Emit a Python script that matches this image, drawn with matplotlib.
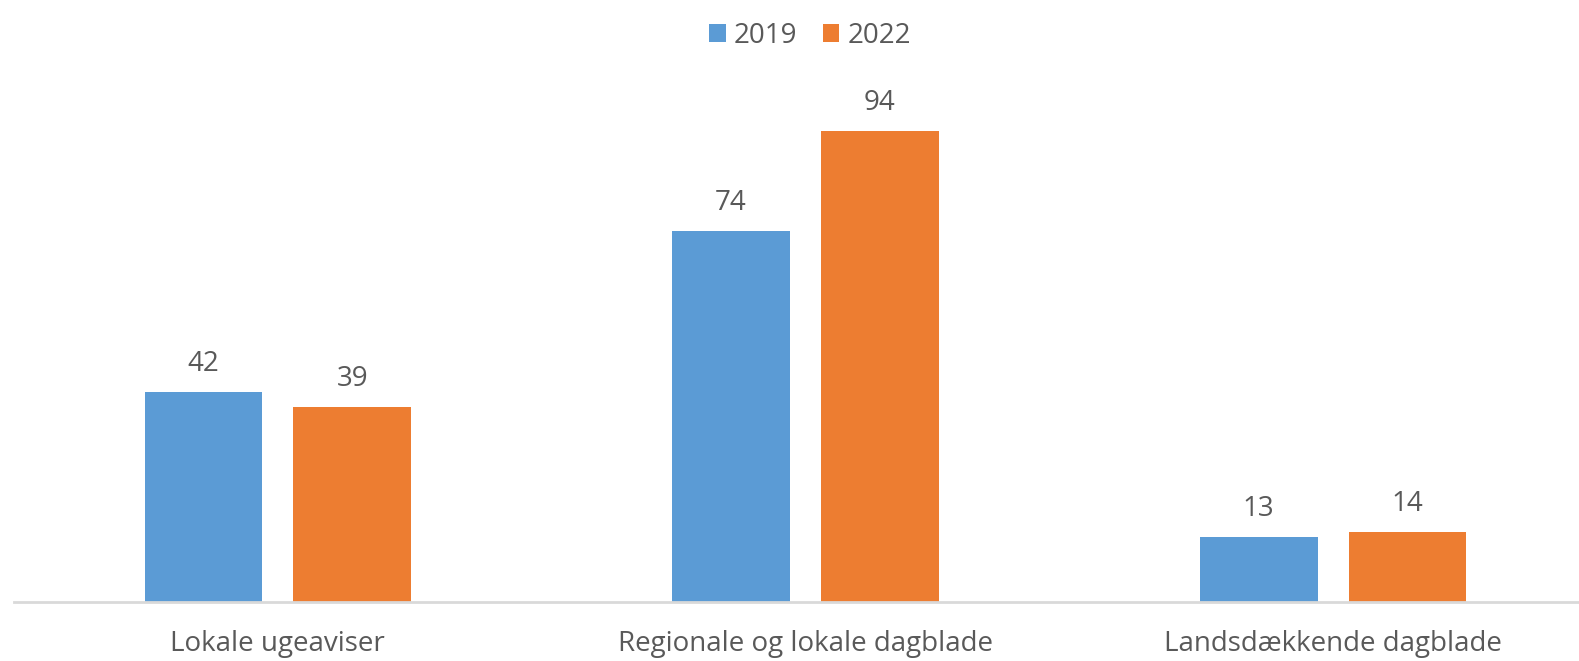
import numpy as np
import matplotlib
matplotlib.use("Agg")
import matplotlib.pyplot as plt

plt.rcParams['font.family'] = ['Open Sans', 'DejaVu Sans']

kategorier = ["Lokale ugeaviser", "Regionale og lokale dagblade", "Landsdækkende dagblade"]
aar = ["2019", "2022"]
vaerdier_2019 = [42, 74, 13]
vaerdier_2022 = [39, 94, 14]

farver = ["#5B9BD5", "#ED7D31"]
tekstfarve = "#595959"

x = np.arange(len(kategorier))
width = 0.223
offset = 0.141

fig = plt.figure(figsize=(15.79, 6.61), dpi=100)
ax = fig.add_axes([14 / 1579, 59 / 661, 1 - 14 / 1579, 542 / 661])

b1 = ax.bar(x - offset, vaerdier_2019, width, color=farver[0], label=aar[0])
b2 = ax.bar(x + offset, vaerdier_2022, width, color=farver[1], label=aar[1])

ax.bar_label(b1, padding=10, fontsize=20, color=tekstfarve)
ax.bar_label(b2, padding=10, fontsize=20, color=tekstfarve)

ax.set_xlim(-0.5, 2.466)
ax.set_ylim(0, 108.2)
ax.set_yticks([])
ax.set_xticks(x)
ax.set_xticklabels(kategorier, fontsize=20, color=tekstfarve)
ax.tick_params(axis="x", length=0, pad=20)
for s in ["top", "right", "left"]:
    ax.spines[s].set_visible(False)
ax.spines["bottom"].set_color("#D9D9D9")
ax.spines["bottom"].set_linewidth(2)

leg = fig.legend(loc="upper center", bbox_to_anchor=(0.513, 1.005), ncol=2, frameon=False,
                 fontsize=20, handlelength=0.6, handleheight=0.6, handletextpad=0.3,
                 columnspacing=0.9, labelcolor=tekstfarve)

fig.savefig("out.png", dpi=100)
